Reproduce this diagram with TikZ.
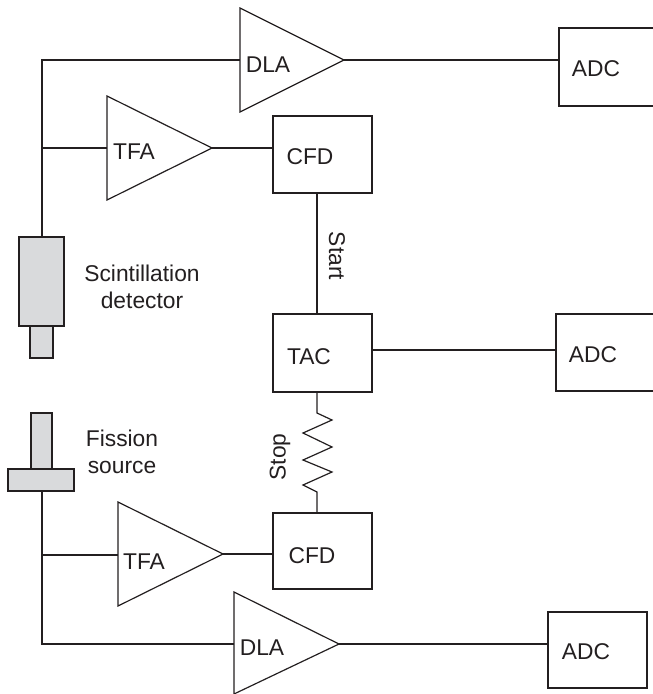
\documentclass[tikz,border=0pt]{standalone}
\usepackage{fontspec}
\setmainfont{Liberation Sans}
\definecolor{ink}{RGB}{35,31,32}
\definecolor{parts}{RGB}{217,218,220}
\begin{document}
\begin{tikzpicture}[x=1pt,y=-1pt,
  wire/.style={draw=ink,line width=1.2pt},
  amp/.style={draw=ink,line width=1.2pt,line join=miter},
  box/.style={draw=ink,line width=1.2pt,rectangle},
  part/.style={draw=ink,line width=1.2pt,fill=parts},
  lbl/.style={text=ink,font=\fontsize{22.8}{27.5}\selectfont,inner sep=0pt},
  multi/.style={lbl,align=center}]
\useasboundingbox (0,0) rectangle (653,694);
\clip (0,0) rectangle (653,694);

% boxes
\draw[box] (559,28) rectangle (670,106);
\coordinate (adc1in) at (559,60);
\draw[box] (556,314) rectangle (670,391);
\coordinate (adc2in) at (556,350);
\draw[box] (548,612) rectangle (647,688);
\coordinate (adc3in) at (548,644);
\draw[box] (273,116) rectangle (372,193);
\coordinate (cfd1in) at (273,148);
\coordinate (cfd1out) at (317,193);
\draw[box] (273,314) rectangle (372,392);
\coordinate (tacin) at (317,314);
\coordinate (tacout) at (372,350);
\coordinate (tacstop) at (317,392);
\draw[box] (273,513) rectangle (372,589);
\coordinate (cfd2in) at (273,554);
\coordinate (cfd2top) at (317,513);

% amplifiers
\draw[amp] (240,8) -- (240,112) -- (344,60) -- cycle;
\coordinate (dla1in) at (240,60);
\coordinate (dla1out) at (344,60);
\draw[amp] (107,96) -- (107,200) -- (212,148) -- cycle;
\coordinate (tfa1in) at (107,148);
\coordinate (tfa1out) at (212,148);
\draw[amp] (118,502) -- (118,606) -- (223,554) -- cycle;
\coordinate (tfa2in) at (118,555);
\coordinate (tfa2out) at (223,554);
\draw[amp] (234,592) -- (234,694) -- (339,644) -- cycle;
\coordinate (dla2in) at (234,644);
\coordinate (dla2out) at (339,644);

% detectors
\draw[part] (30,326) rectangle (53,358);
\draw[part] (19,237) rectangle (64,326);
\coordinate (scint) at (42,237);
\draw[part] (31,413) rectangle (52,469);
\draw[part] (8,469) rectangle (74,491);
\coordinate (fiss) at (42,491);

% wiring
\coordinate (j1) at (42,60);
\coordinate (j2) at (42,148);
\draw[wire] (scint) -- (j1) -- (dla1in);
\draw[wire] (j2) -- (tfa1in);
\draw[wire] (dla1out) -- (adc1in);
\draw[wire] (tfa1out) -- (cfd1in);
\draw[wire] (cfd1out) -- (tacin);
\draw[wire] (tacout) -- (adc2in);
\draw[wire,line join=miter] (tacstop) -- (317,413) -- (332,420) -- (303,433) -- (332,447)
  -- (303,460) -- (332,472) -- (303,485) -- (317,492) -- (cfd2top);
\coordinate (j3) at (42,644);
\coordinate (j4) at (42,555);
\draw[wire] (fiss) -- (j3) -- (dla2in);
\draw[wire] (j4) -- (tfa2in);
\draw[wire] (tfa2out) -- (cfd2in);
\draw[wire] (dla2out) -- (adc3in);

% labels
\node[lbl] (tdla1) at (268,65) {DLA};
\node[lbl] (ttfa1) at (134,152) {TFA};
\node[lbl] (tcfd1) at (310,157) {CFD};
\node[lbl] (tadc1) at (596,69) {ADC};
\node[lbl,rotate=-90] (tstart) at (337,256) {Start};
\node[multi] (tscint) at (142,287) {Scintillation\\detector};
\node[lbl] (ttac) at (309,357) {TAC};
\node[lbl] (tadc2) at (593,355) {ADC};
\node[lbl,rotate=90] (tstop) at (280,457) {Stop};
\node[multi] (tfiss) at (122,452) {Fission\\source};
\node[lbl] (ttfa2) at (144,562) {TFA};
\node[lbl] (tcfd2) at (312,556) {CFD};
\node[lbl] (tdla2) at (262,648) {DLA};
\node[lbl] (tadc3) at (586,652) {ADC};
\end{tikzpicture}
\end{document}
